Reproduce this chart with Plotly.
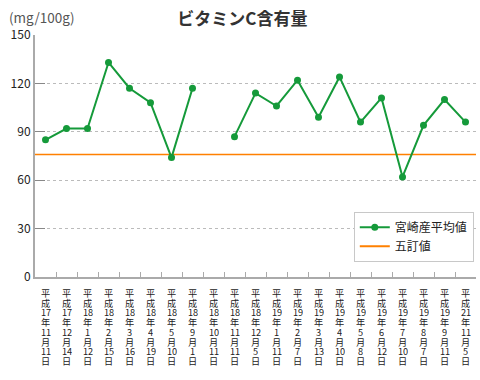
import re
import plotly.graph_objects as go

dates = ["平成17年11月11日", "平成17年12月14日", "平成18年1月12日", "平成18年2月15日",
         "平成18年3月16日", "平成18年4月19日", "平成18年5月10日", "平成18年9月1日",
         "平成18年10月11日", "平成18年11月11日", "平成18年12月5日", "平成19年1月11日",
         "平成19年2月7日", "平成19年3月13日", "平成19年4月10日", "平成19年5月8日",
         "平成19年6月12日", "平成19年7月10日", "平成19年8月7日", "平成19年9月11日",
         "平成21年11月5日"]
miyazaki = [85, 92, 92, 133, 117, 108, 74, 117, None, 87, 114, 106, 122, 99, 124, 96,
            111, 62, 94, 110, 96]
gotei = 76
yticks = [0, 30, 60, 90, 120, 150]

GREEN = "#159a3a"
ORANGE = "#ff8000"

fig = go.Figure()
fig.add_trace(go.Scatter(
    x=dates, y=miyazaki, mode="lines+markers", name="宮崎産平均値",
    line=dict(color=GREEN, width=2), marker=dict(color=GREEN, size=7),
    connectgaps=False))
fig.add_trace(go.Scatter(
    x=[None], y=[None], mode="lines", name="五訂値",
    line=dict(color=ORANGE, width=2)))
fig.add_shape(type="line", xref="paper", x0=0, x1=1, yref="y", y0=gotei, y1=gotei,
              line=dict(color=ORANGE, width=1.5), layer="below")

# vertical (top-to-bottom) category labels
annotations = []
for d in dates:
    parts = re.findall(r"\d+|\D", d)
    for j, p in enumerate(parts):
        annotations.append(dict(
            text=p, x=d, xref="x", y=0, yref="y", yanchor="top", xanchor="center",
            yshift=-10 - j * 9.7, showarrow=False, height=9.7, valign="middle",
            borderpad=0, font=dict(size=9.2, color="#222")))
annotations.append(dict(text="(mg/100g)", xref="paper", yref="paper", x=-0.063, y=1.074,
                        xanchor="left", yanchor="middle", showarrow=False,
                        font=dict(size=13.5, color="#555")))

fig.update_layout(
    width=480, height=380,
    margin=dict(l=35, r=4, t=35, b=103),
    plot_bgcolor="white", paper_bgcolor="white",
    font=dict(family="Noto Sans CJK JP", size=11, color="#222"),
    title=dict(text="<b>ビタミンC含有量</b>", x=0.505, xanchor="center", y=0.951,
               yanchor="middle", font=dict(size=17, color="#333")),
    legend=dict(x=0.995, y=0.27, xanchor="right", yanchor="top",
                bordercolor="#c8c8c8", borderwidth=1, bgcolor="white",
                font=dict(size=12), itemwidth=30, tracegroupgap=0),
    annotations=annotations,
)
fig.update_xaxes(
    type="category", categoryorder="array", categoryarray=dates,
    showticklabels=False, tickson="boundaries", ticks="inside", ticklen=5,
    tickcolor="#aaa", showline=True, linecolor="#aaa", linewidth=2, showgrid=False,
    range=[-0.5, 20.5])
fig.update_yaxes(
    range=[0, 150], tickvals=yticks, ticks="inside", ticklen=10, tickcolor="#888",
    showline=True, linecolor="#aaa", linewidth=2, showgrid=True, gridcolor="#bbb",
    griddash="dot", gridwidth=1, zeroline=False, tickfont=dict(size=12, color="#222"))

fig.write_html("out.html", config={"displayModeBar": False},
               post_script="document.body.style.margin='0';")
